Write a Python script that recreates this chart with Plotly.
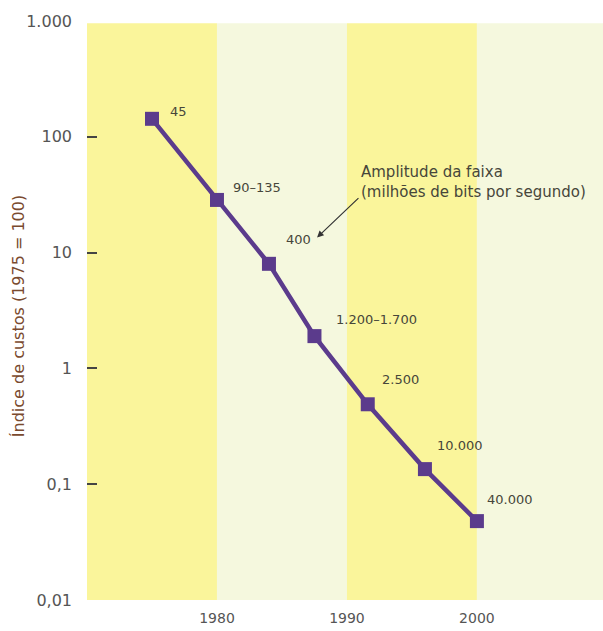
import math
import plotly.graph_objects as go

years = [1975, 1980, 1984, 1987.5, 1991.6, 1996, 2000]
cost_index = [143, 28.5, 8.0, 1.9, 0.49, 0.135, 0.048]
bandwidth_labels = ["45", "90–135", "400", "1.200–1.700", "2.500", "10.000", "40.000"]
band_edges = [1970, 1980, 1990, 2000, 2010]
band_colors = ["#FAF59B", "#F5F8DE", "#FAF59B", "#F5F8DE"]
ytick_vals = [0.01, 0.1, 1, 10, 100, 1000]
ytick_text = ["0,01", "0,1", "1", "10", "100", "1.000"]
xtick_vals = [1980, 1990, 2000]
xtick_text = ["1980", "1990", "2000"]
y_title = "Índice de custos (1975 = 100)"
note_text = "Amplitude da faixa<br>(milhões de bits por segundo)"

# label placement (pixel shifts from each marker centre)
label_shift = [(16, 7), (14, 12), (15, 24), (20, 17), (12, 25), (10, 24), (8, 22)]

FONT = "DejaVu Sans, Verdana, sans-serif"
TXT = "#46463A"

fig = go.Figure()

for i, c in enumerate(band_colors):
    fig.add_shape(type="rect", xref="x", yref="paper",
                  x0=band_edges[i], x1=band_edges[i + 1], y0=0, y1=0.996,
                  fillcolor=c, line_width=0, layer="below")

fig.add_trace(go.Scatter(
    x=years, y=cost_index, mode="lines+markers",
    line=dict(color="#5B3B8C", width=4.5),
    marker=dict(symbol="square", size=14, color="#5B3B8C"),
    hoverinfo="skip", showlegend=False,
))

for x, y, t, (dx, dy) in zip(years, cost_index, bandwidth_labels, label_shift):
    fig.add_annotation(x=x, y=math.log10(y), xref="x", yref="y", text=t, showarrow=False,
                       xanchor="left", yanchor="middle", xshift=dx, yshift=dy,
                       font=dict(family=FONT, size=13, color=TXT))

# arrow pointing from the note towards the line
fig.add_annotation(x=1987.7, y=math.log10(13.5), xref="x", yref="y",
                   ax=1991.0, ay=math.log10(30.4), axref="x", ayref="y",
                   text="", showarrow=True, arrowhead=2, arrowsize=1.1,
                   arrowwidth=1.2, arrowcolor="#333333")
fig.add_annotation(x=1990.9, y=math.log10(27), xref="x", yref="y",
                   text=note_text, showarrow=False, xanchor="left", yanchor="bottom",
                   align="left", font=dict(family=FONT, size=15, color=TXT))

# y-axis title
fig.add_annotation(x=-0.134, y=0.49, xref="paper", yref="paper", text=y_title,
                   showarrow=False, textangle=-90, xanchor="center", yanchor="middle",
                   font=dict(family=FONT, size=16, color="#7A4A2E"))

fig.update_layout(
    width=603, height=631,
    margin=dict(l=87, r=0, t=21, b=31),
    paper_bgcolor="white", plot_bgcolor="white",
    font=dict(family=FONT, size=13, color="#555555"),
    xaxis=dict(range=[1970, 2009.7], tickvals=xtick_vals, ticktext=xtick_text,
               showgrid=False, zeroline=False, showline=False, ticks="",
               automargin=False, ticklabelstandoff=8,
               tickfont=dict(family=FONT, size=14, color="#555555")),
    yaxis=dict(type="log", range=[-2, 3], tickvals=ytick_vals, ticktext=ytick_text,
               showgrid=False, zeroline=False, showline=False, automargin=False,
               ticks="inside", ticklen=10, tickwidth=2, tickcolor="#444444",
               ticklabelstandoff=14, tickfont=dict(family=FONT, size=16, color="#555555")),
)

fig.write_html("out.html", config={"displayModeBar": False},
               post_script="document.body.style.margin='0';document.body.style.overflow='hidden';")
